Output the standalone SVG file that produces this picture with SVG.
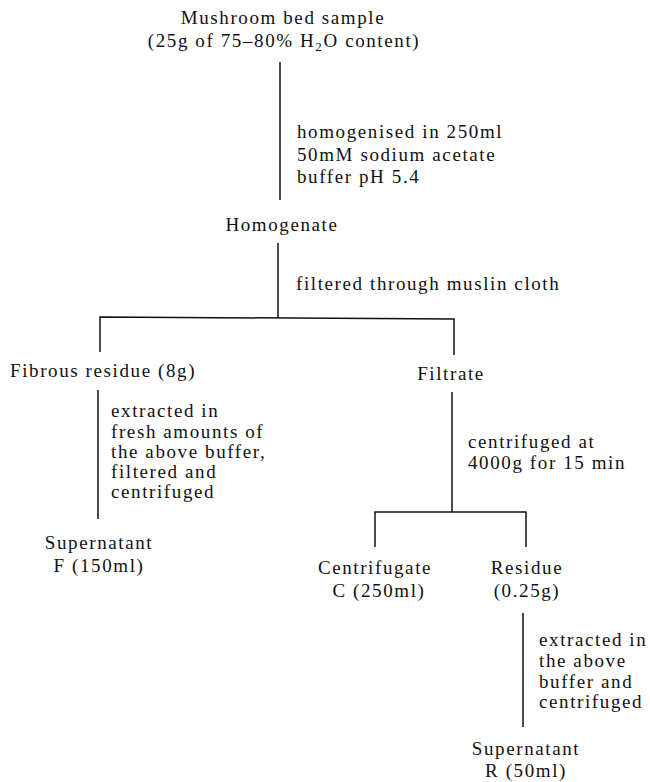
<svg xmlns="http://www.w3.org/2000/svg" width="650" height="782" viewBox="0 0 650 782">
<style>
text{font-family:"Liberation Serif","Times New Roman",serif;font-size:19px;fill:#111;letter-spacing:1.6px}
.c{text-anchor:middle}
.ln{stroke:#111;stroke-width:1.5;fill:none}
</style>
<rect width="650" height="782" fill="#fff"/>
<g id="connectors">
<line class="ln" x1="280" y1="62" x2="280" y2="200"/>
<line class="ln" x1="278" y1="243" x2="278" y2="318"/>
<polyline class="ln" points="100,352 100,317 454,319 454,355"/>
<line class="ln" x1="98" y1="390" x2="98" y2="519"/>
<line class="ln" x1="452" y1="392" x2="452" y2="512"/>
<polyline class="ln" points="375,547 375,512 526,512 526,547"/>
<line class="ln" x1="523" y1="613" x2="523" y2="727"/>
</g>
<g id="sample"><text class="c" x="283" y="24">Mushroom bed sample</text><text class="c" x="284" y="47">(25g of 75–80% H<tspan font-size="13" dy="4">2</tspan><tspan dy="-4">O content)</tspan></text></g>
<g id="step1"><text x="297" y="138">homogenised in 250ml</text><text x="297" y="161">50mM sodium acetate</text><text x="297" y="183">buffer pH 5.4</text></g>
<g id="homogenate"><text class="c" x="282" y="231">Homogenate</text></g>
<g id="step2"><text x="296" y="290">filtered through muslin cloth</text></g>
<g id="fibrous"><text x="10" y="377">Fibrous residue (8g)</text></g>
<g id="filtrate"><text class="c" x="451" y="380">Filtrate</text></g>
<g id="step3"><text x="111" y="417">extracted in</text><text x="111" y="438">fresh amounts of</text><text x="111" y="458">the above buffer,</text><text x="111" y="478">filtered and</text><text x="111" y="498">centrifuged</text></g>
<g id="supF"><text class="c" x="99" y="549">Supernatant</text><text class="c" x="99" y="572">F (150ml)</text></g>
<g id="step4"><text x="468" y="448">centrifuged at</text><text x="468" y="469">4000g for 15 min</text></g>
<g id="centrifugate"><text class="c" x="375" y="574">Centrifugate</text><text class="c" x="379" y="597">C (250ml)</text></g>
<g id="residue"><text class="c" x="527" y="574">Residue</text><text class="c" x="527" y="597">(0.25g)</text></g>
<g id="step5"><text x="539" y="646">extracted in</text><text x="539" y="667">the above</text><text x="539" y="688">buffer and</text><text x="539" y="708">centrifuged</text></g>
<g id="supR"><text class="c" x="526" y="755">Supernatant</text><text class="c" x="526" y="777">R (50ml)</text></g>
</svg>
